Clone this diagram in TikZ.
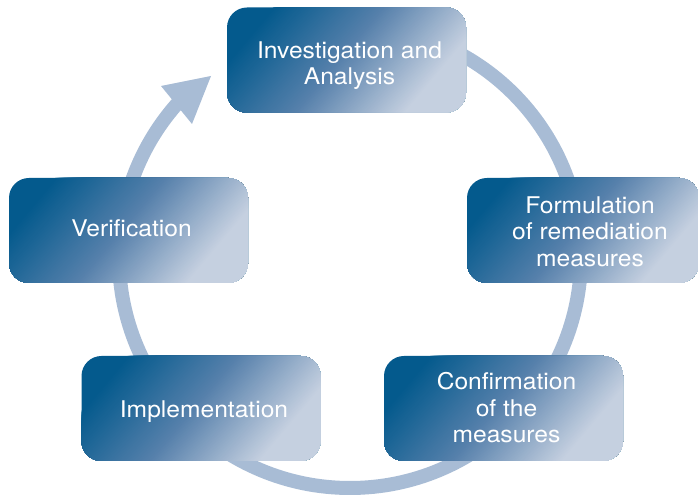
\documentclass[tikz,border=0pt]{standalone}
\usepackage{fontspec}
\setmainfont{TeX Gyre Heros}[FakeStretch=1.07]
\definecolor{boxdark}{RGB}{4,90,141}
\definecolor{boxmid}{RGB}{86,128,171}
\definecolor{boxlight}{RGB}{197,208,224}
\definecolor{ringblue}{RGB}{168,188,213}
% diagonal fade (top left dark, bottom right light) built from
% overlapping bands running across the box at 50 degrees
\newcommand\fadestripes{%
  \fill[boxdark] (path picture bounding box.south west) rectangle (path picture bounding box.north east);
  \foreach \k in {0,...,168}{%
    \pgfmathsetmacro\fadeu{-90+\k}%
    \ifnum\k<84
      \pgfmathsetmacro\pct{100*\k/84}\edef\fadecol{boxmid!\pct!boxdark}%
    \else
      \pgfmathsetmacro\pct{min(100,100*(\k-84)/84)}\edef\fadecol{boxlight!\pct!boxmid}%
    \fi
    \fill[fill=\fadecol] (path picture bounding box.center)
      ++({0.766*\fadeu-160.75},{-0.643*\fadeu-191.5}) -- ++(321.5,383)
      -- ++({0.766*(250-\fadeu)},{-0.643*(250-\fadeu)}) -- ++(-321.5,-383) -- cycle;
  }%
}
\begin{document}
\begin{tikzpicture}[x=1pt,y=1pt,
  stage/.style={rounded corners=20pt, minimum width=239pt, minimum height=105pt,
                inner sep=0pt, path picture={\fadestripes}},
  caption/.style={text=white, font=\fontsize{23}{26.5}\selectfont,
                  align=center, inner sep=0pt},
  ring/.style={draw=ringblue, line width=14pt}]
\useasboundingbox (0,0) rectangle (698,497);
\clip (0,0) rectangle (698,497);

% cycle ring with its arrowhead
\coordinate (hub) at (350,240);
\draw[ring] (hub) ++(90:231) arc[start angle=90, end angle=-224, radius=231];
\coordinate (tip) at (211,421);
\fill[ringblue] (161,411) -- (tip) -- (192,373) -- cycle;

% stage boxes
\node[stage] (inv) at (346.5,437) {};
\node[stage] (ver) at (128.5,266.5) {};
\node[stage, minimum width=232pt] (for) at (583,266.5) {};
\node[stage] (imp) at (201,88.5) {};
\node[stage] (con) at (503.5,88.5) {};

% stage captions
\node[caption, xshift=3pt, yshift=-5.4pt] (invt) at (inv.center) {Investigation and\\Analysis};
\node[caption, xshift=3pt, yshift=2.7pt] (vert) at (ver.center) {Verification};
\node[caption, xshift=7pt, yshift=-0.8pt] (fort) at (for.center) {Formulation\\of remediation\\measures};
\node[caption, xshift=3pt, yshift=-2.7pt] (impt) at (imp.center) {Implementation};
\node[caption, xshift=3pt, yshift=0.7pt] (cont) at (con.center) {Confirmation\\of the\\measures};
\end{tikzpicture}
\end{document}
